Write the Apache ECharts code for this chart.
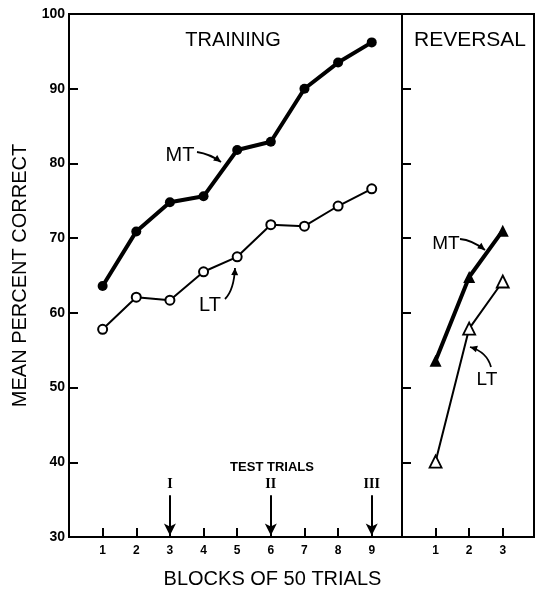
<!DOCTYPE html>
<html>
<head>
<meta charset="utf-8">
<script src="https://cdn.jsdelivr.net/npm/echarts@6/dist/echarts.min.js"></script>
<style>
  html, body { margin: 0; background: #fff; }
  #chart { width: 545px; height: 591px; }
</style>
</head>
<body>
<div id="chart"></div>
<script>
// blocks of 50 trials
const trainBlocks = [1, 2, 3, 4, 5, 6, 7, 8, 9];
const revBlocks = [1, 2, 3];
// mean percent correct
const mtTraining = [63.6, 70.9, 74.8, 75.6, 81.8, 82.9, 90.0, 93.5, 96.2];
const ltTraining = [57.8, 62.1, 61.7, 65.5, 67.5, 71.8, 71.6, 74.3, 76.6];
const mtReversal = [53.6, 64.8, 71.0];
const ltReversal = [40.1, 57.9, 64.2];
const yTicks = [30, 40, 50, 60, 70, 80, 90, 100];
const testTrialBlocks = [3, 6, 9];
const testTrialNames = ["I", "II", "III"];

const FONT = "Liberation Sans";
const pairs = (xs, ys) => xs.map((x, i) => [x, ys[i]]);

const chart = echarts.init(document.getElementById("chart"));

const axisLine = { show: true, lineStyle: { color: "#000", width: 2 } };
const tick = { show: true, inside: true, length: 9, lineStyle: { color: "#000", width: 2 } };

const option = {
  animation: false,
  backgroundColor: "#fff",
  title: {
    text: "BLOCKS OF 50 TRIALS",
    left: "center",
    top: 569,
    padding: 0,
    textStyle: { fontFamily: FONT, fontSize: 20, fontWeight: "normal", color: "#000" },
  },
  grid: [
    { left: 69, right: 143, top: 14, bottom: 54, show: true, borderColor: "#000", borderWidth: 2, outerBoundsMode: "none" },
    { left: 402, right: 11, top: 14, bottom: 54, show: true, borderColor: "#000", borderWidth: 2, outerBoundsMode: "none" },
  ],
  xAxis: [
    {
      gridIndex: 0,
      type: "value",
      min: 0,
      max: 9.9,
      interval: 1,
      axisLine: axisLine,
      axisTick: Object.assign({}, tick, { customValues: trainBlocks }),
      axisLabel: {
        customValues: trainBlocks,
        margin: 8,
        color: "#000",
        fontFamily: FONT,
        fontWeight: "bold",
        fontSize: 12,
      },
      splitLine: { show: false },
    },
    {
      gridIndex: 1,
      type: "value",
      min: 0,
      max: 3.93,
      interval: 1,
      axisLine: axisLine,
      axisTick: Object.assign({}, tick, { customValues: revBlocks }),
      axisLabel: {
        customValues: revBlocks,
        margin: 8,
        color: "#000",
        fontFamily: FONT,
        fontWeight: "bold",
        fontSize: 12,
      },
      splitLine: { show: false },
    },
  ],
  yAxis: [
    {
      gridIndex: 0,
      type: "value",
      min: 30,
      max: 100,
      interval: 10,
      name: "MEAN PERCENT CORRECT",
      nameLocation: "middle",
      nameRotate: 90,
      nameGap: 38,
      nameTextStyle: { fontFamily: FONT, fontSize: 20, color: "#000" },
      axisLine: axisLine,
      axisTick: tick,
      axisLabel: {
        margin: 4,
        color: "#000",
        fontFamily: FONT,
        fontWeight: "bold",
        fontSize: 14,
        formatter: (v) => (yTicks.indexOf(v) >= 0 ? String(v) : ""),
      },
      splitLine: { show: false },
    },
    {
      gridIndex: 1,
      type: "value",
      min: 30,
      max: 100,
      interval: 10,
      axisLine: axisLine,
      axisTick: tick,
      axisLabel: { show: false },
      splitLine: { show: false },
    },
  ],
  series: [
    {
      name: "MT training",
      type: "line",
      xAxisIndex: 0,
      yAxisIndex: 0,
      data: pairs(trainBlocks, mtTraining),
      symbol: "circle",
      symbolSize: 10,
      itemStyle: { color: "#000" },
      lineStyle: { color: "#000", width: 4 },
      z: 3,
    },
    {
      name: "LT training",
      type: "line",
      xAxisIndex: 0,
      yAxisIndex: 0,
      data: pairs(trainBlocks, ltTraining),
      symbol: "circle",
      symbolSize: 9,
      itemStyle: { color: "#fff", borderColor: "#000", borderWidth: 2 },
      lineStyle: { color: "#000", width: 2 },
      z: 3,
      markLine: {
        silent: true,
        symbol: ["none", "arrow"],
        symbolSize: [9, 12],
        lineStyle: { color: "#000", width: 2, type: "solid" },
        label: { show: false },
        data: testTrialBlocks.map((b) => [{ coord: [b, 35.6] }, { coord: [b, 30.2] }]),
      },
    },
    {
      name: "MT reversal",
      type: "line",
      xAxisIndex: 1,
      yAxisIndex: 1,
      data: pairs(revBlocks, mtReversal),
      symbol: "triangle",
      symbolSize: 12,
      itemStyle: { color: "#000" },
      lineStyle: { color: "#000", width: 4 },
      z: 3,
    },
    {
      name: "LT reversal",
      type: "line",
      xAxisIndex: 1,
      yAxisIndex: 1,
      data: pairs(revBlocks, ltReversal),
      symbol: "triangle",
      symbolSize: 12,
      itemStyle: { color: "#fff", borderColor: "#000", borderWidth: 1.8 },
      lineStyle: { color: "#000", width: 2 },
      z: 3,
    },
  ],
};

chart.setOption(option);

// annotations: panel titles, series labels and arrows
function head(x, y, ang, size) {
  const a1 = ang + Math.PI - 0.45;
  const a2 = ang + Math.PI + 0.45;
  return {
    type: "polygon",
    shape: {
      points: [
        [x, y],
        [x + size * Math.cos(a1), y + size * Math.sin(a1)],
        [x + size * Math.cos(a2), y + size * Math.sin(a2)],
      ],
    },
    style: { fill: "#000" },
    z: 20,
  };
}

function curvedArrow(x1, y1, cx, cy, x2, y2) {
  return [
    {
      type: "bezierCurve",
      shape: { x1: x1, y1: y1, x2: x2, y2: y2, cpx1: cx, cpy1: cy },
      style: { stroke: "#000", lineWidth: 1.8, fill: null },
      z: 20,
    },
    head(x2, y2, Math.atan2(y2 - cy, x2 - cx), 8),
  ];
}

function label(text, x, y, size, weight) {
  return {
    type: "text",
    x: x,
    y: y,
    style: {
      text: text,
      fontFamily: FONT,
      fontSize: size,
      fontWeight: weight || "normal",
      fill: "#000",
      align: "center",
      verticalAlign: "middle",
    },
    z: 20,
  };
}

const p0 = (x, y) => chart.convertToPixel({ gridIndex: 0 }, [x, y]);

const elements = [
  label("TRAINING", 233, 40, 20),
  label("REVERSAL", 470, 40, 21),
  label("MT", 180, 155, 20),
  label("LT", 210, 305, 20),
  label("MT", 446, 244, 19),
  label("LT", 487, 380, 19),
  label("TEST TRIALS", 272, 467, 13, "bold"),
]
  .concat(curvedArrow(197, 152, 210, 154, 221, 162))
  .concat(curvedArrow(225, 299, 234, 290, 235, 268))
  .concat(curvedArrow(460, 239, 472, 240, 485, 250))
  .concat(curvedArrow(491, 367, 487, 352, 470, 347));

testTrialBlocks.forEach((b, i) => {
  const pt = p0(b, 37);
  elements.push({
    type: "text",
    x: pt[0],
    y: pt[1],
    style: {
      text: testTrialNames[i],
      fontFamily: "Liberation Serif",
      fontSize: 14,
      fontWeight: "bold",
      fill: "#000",
      align: "center",
      verticalAlign: "middle",
    },
    z: 20,
  });
});

chart.setOption({ graphic: { elements: elements } });
</script>
</body>
</html>
